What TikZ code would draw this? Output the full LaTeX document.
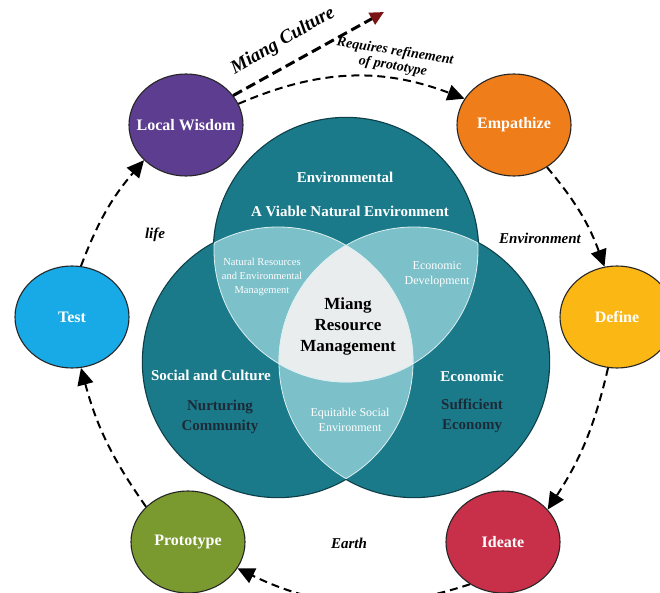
\documentclass[tikz,border=0pt]{standalone}
\usepackage{fontspec}
\setmainfont{Liberation Serif}
\usetikzlibrary{arrows.meta,shapes.geometric}
\definecolor{cpurple}{HTML}{5D3D8F}
\definecolor{corange}{HTML}{EE7D1A}
\definecolor{cyellow}{HTML}{FBB714}
\definecolor{cred}{HTML}{C8304A}
\definecolor{colive}{HTML}{7A9A2F}
\definecolor{cblue}{HTML}{18AAE6}
\definecolor{vteal}{HTML}{1B7A89}
\definecolor{vlens}{HTML}{7CC0C9}
\definecolor{vcore}{HTML}{EAEDED}
\definecolor{vedge}{HTML}{0E3E48}
\definecolor{ink}{HTML}{1C2A38}
\definecolor{mred}{HTML}{7A1515}
\newcommand{\fsz}[2]{\fontsize{#1}{#2}\selectfont}
\begin{document}
\begin{tikzpicture}[x=1pt,y=1pt,
  stage/.style={ellipse, draw=black!85, line width=1.1pt, minimum width=114pt,
    minimum height=102pt, inner xsep=-18pt, inner ysep=0pt, text=white, font=\bfseries\fsz{16}{18}},
  flow/.style={draw=black, line width=2pt, dash pattern=on 8pt off 5pt,
    -{Triangle[length=17pt,width=16pt]}},
  vtitle/.style={text=white, font=\bfseries\fsz{15}{18}, align=center},
  vsub/.style={text=ink, font=\bfseries\fsz{15}{20}, align=center},
  lenstxt/.style={text=white, align=center, inner sep=0pt},
  ital/.style={text=black, font=\bfseries\itshape\fsz{15}{18}}]
\useasboundingbox (0,0) rectangle (660,592);

% Venn centres
\coordinate (T) at (346,342);
\coordinate (L) at (278,230);
\coordinate (R) at (414,230);

% outer outlines
\fill[vteal, draw=vedge, line width=2.4pt] (T) circle (132);
\fill[vteal, draw=vedge, line width=2.4pt] (L) circle (135);
\fill[vteal, draw=vedge, line width=2.4pt] (R) circle (135);
\fill[vteal] (T) circle (132);
\fill[vteal] (L) circle (135);
\fill[vteal] (R) circle (135);
% pairwise lenses
\begin{scope}
  \clip (T) circle (132);
  \fill[vlens] (L) circle (135);
  \fill[vlens] (R) circle (135);
\end{scope}
\begin{scope}
  \clip (L) circle (135);
  \fill[vlens] (R) circle (135);
\end{scope}
% core
\begin{scope}
  \clip (T) circle (132);
  \clip (L) circle (135);
  \fill[vcore] (R) circle (135);
\end{scope}
% inner arcs
\begin{scope}
  \clip (T) circle (132);
  \draw[white!75!vlens, line width=0.8pt] (L) circle (135) (R) circle (135);
\end{scope}
\begin{scope}
  \clip (L) circle (135);
  \draw[white!75!vlens, line width=0.8pt] (T) circle (132) (R) circle (135);
\end{scope}
\begin{scope}
  \clip (R) circle (135);
  \draw[white!75!vlens, line width=0.8pt] (T) circle (132) (L) circle (135);
\end{scope}

% Venn texts
\node[vtitle] (envt) at (345,415) {Environmental};
\node[vtitle] (envs) at (350,381) {A Viable Natural Environment};
\node[lenstxt, font=\fsz{10.5}{14}] (nrem) at (262,315) {Natural Resources\\and Environmental\\Management};
\node[lenstxt, font=\fsz{12}{15}] (ecod) at (437,318) {Economic\\Development};
\node[text=black, font=\bfseries\fsz{17}{21}, align=center] (core) at (348,266) {Miang\\Resource\\Management};
\node[vtitle] (soct) at (211,217) {Social and Culture};
\node[vsub] (socs) at (220,175) {Nurturing\\Community};
\node[lenstxt, font=\fsz{12}{15}] (eqse) at (350,172) {Equitable Social\\Environment};
\node[vtitle] (ecot) at (472,216) {Economic};
\node[vsub] (ecos) at (472,176) {Sufficient\\Economy};

% stage ellipses
\node[stage, fill=cpurple] (lw)  at (186,467) {Local Wisdom};
\node[stage, fill=corange] (emp) at (514,467) {Empathize};
\node[stage, fill=cyellow] (def) at (617,275) {Define};
\node[stage, fill=cred]    (ide) at (503,50)  {Ideate};
\node[stage, fill=colive]  (pro) at (188,50)  {Prototype};
\node[stage, fill=cblue]   (tst) at (72,275)  {Test};

% cycle connectors
\draw[flow] (lw.22) to[bend left=22] (emp.152);
\draw[flow] (emp.-52) to[bend left=10] (def.104);
\draw[flow] (def.-100) to[bend left=10] (ide.36);
\draw[flow] (ide.-128) to[bend left=22] (pro.-28);
\draw[flow] (pro.140) to[bend left=10] (tst.-80);
\draw[flow] (tst.80) to[bend left=10] (lw.-140);

% Miang Culture arrow
\coordinate (mtip) at (384,580);
\draw[black, line width=3pt, dash pattern=on 10pt off 5pt,
  -{Triangle[length=14pt,width=13pt,color=mred]}] (lw.32) -- (mtip);
\node[text=black, font=\bfseries\itshape\fsz{19}{22}, rotate=30] (mc) at (283,551) {Miang Culture};
\node[text=black, font=\bfseries\itshape\fsz{14}{15}, rotate=-9, align=center, inner sep=0pt] (req) at (394,533) {Requires refinement\\of prototype};

% italic labels
\node[ital] (life) at (155,357) {life};
\node[ital] (envl) at (540,354) {Environment};
\node[ital] (earth) at (349,49) {Earth};
\end{tikzpicture}
\end{document}
